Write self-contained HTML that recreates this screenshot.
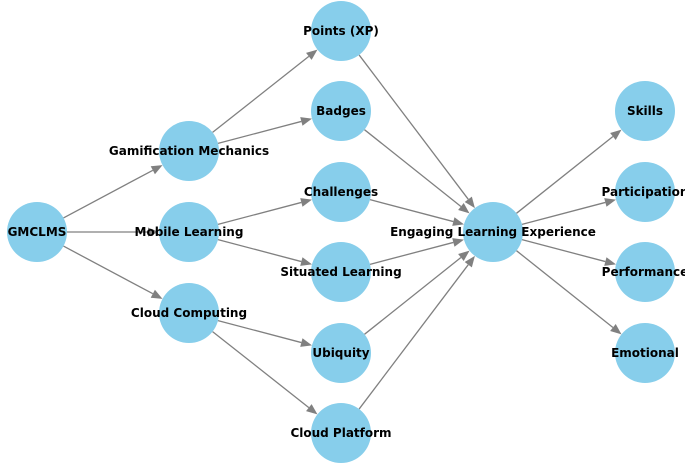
<!DOCTYPE html>
<html><head><meta charset="utf-8"><style>
html,body{margin:0;padding:0;background:#fff;}
svg{display:block}
text{font-family:"DejaVu Sans","Liberation Sans",sans-serif;font-weight:bold;font-size:12px;fill:#000;text-anchor:middle;dominant-baseline:central}
</style></head><body>
<svg id="s" width="685" height="464" viewBox="0 0 685 464" xmlns="http://www.w3.org/2000/svg">
<g id="edges"></g><g id="nodes"></g><g id="labels"></g>
</svg>
<script>
var N={
g:[37,232,"GMCLMS"],gm:[189,151,"Gamification Mechanics"],ml:[189,232,"Mobile Learning"],cc:[189,313,"Cloud Computing"],
p:[341,31,"Points (XP)"],b:[341,111,"Badges"],c:[341,192,"Challenges"],sl:[341,272,"Situated Learning"],u:[341,353,"Ubiquity"],cp:[341,433,"Cloud Platform"],
e:[493,232,"Engaging Learning Experience"],
sk:[645,111,"Skills"],pa:[645,192,"Participation"],pe:[645,272,"Performance"],em:[645,353,"Emotional"]};
var E=[["g","gm"],["g","ml"],["g","cc"],["gm","p"],["gm","b"],["ml","c"],["ml","sl"],["cc","u"],["cc","cp"],
["p","e"],["b","e"],["c","e"],["sl","e"],["u","e"],["cp","e"],["e","sk"],["e","pa"],["e","pe"],["e","em"]];
var R=30,NS="http://www.w3.org/2000/svg",eg=document.getElementById("edges"),ng=document.getElementById("nodes"),lg=document.getElementById("labels");
function el(t,a,p){var x=document.createElementNS(NS,t);for(var k in a)x.setAttribute(k,a[k]);p.appendChild(x);return x;}
E.forEach(function(d){var a=N[d[0]],b=N[d[1]];var dx=b[0]-a[0],dy=b[1]-a[1],L=Math.hypot(dx,dy),ux=dx/L,uy=dy/L;
var x1=a[0]+ux*R,y1=a[1]+uy*R,tx=b[0]-ux*R,ty=b[1]-uy*R,hl=11,hw=4.5,bx=tx-ux*hl,by=ty-uy*hl;
el("line",{x1:x1,y1:y1,x2:bx,y2:by,stroke:"#808080","stroke-width":1.3},eg);
el("polygon",{points:tx+","+ty+" "+(bx-uy*hw)+","+(by+ux*hw)+" "+(bx+uy*hw)+","+(by-ux*hw),fill:"#808080"},eg);});
for(var k in N){var n=N[k];el("circle",{cx:n[0],cy:n[1],r:R,fill:"#87CEEB"},ng);var t=el("text",{x:n[0],y:n[1]},lg);t.textContent=n[2];}
</script>
</body></html>
